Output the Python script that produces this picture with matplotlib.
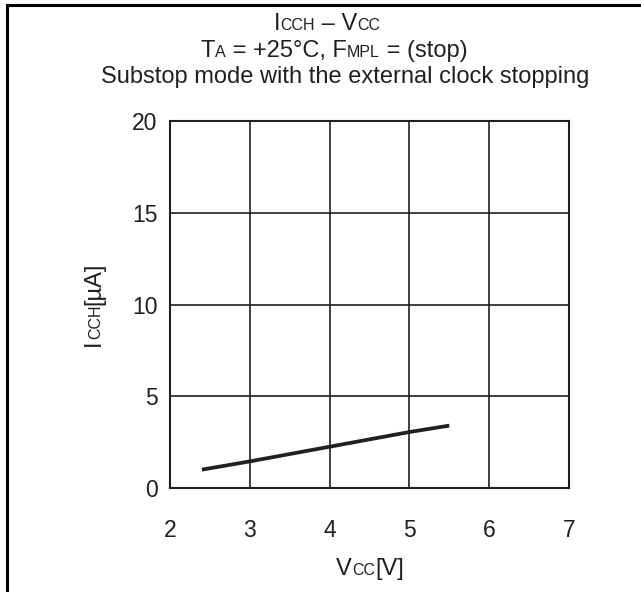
import matplotlib
matplotlib.use("Agg")
import matplotlib.pyplot as plt
from matplotlib.lines import Line2D

plt.rcParams['font.family'] = ['Liberation Sans', 'DejaVu Sans']

# ---- data ----
vcc = [2.4, 3.0, 4.0, 5.0, 5.5]
icch = [1.0, 1.45, 2.25, 3.05, 3.4]
x_ticks = [2, 3, 4, 5, 6, 7]
y_ticks = [0, 5, 10, 15, 20]

W, H = 641, 592
fig = plt.figure(figsize=(W / 100, H / 100), dpi=100)

L, R, T, B = 170, 569, 121, 488
ax = fig.add_axes([L / W, 1 - B / H, (R - L) / W, (B - T) / H])
ax.plot(vcc, icch, color='#231f20', lw=2.7, solid_capstyle='butt')
ax.set_xlim(2, 7)
ax.set_ylim(0, 20)
ax.set_xticks(x_ticks)
ax.set_yticks(y_ticks)
ax.grid(True, color='#231f20', lw=1.2)
ax.tick_params(length=0, labelsize=16.5, labelcolor='#231f20')
ax.tick_params(axis='y', pad=9)
ax.tick_params(axis='x', pad=22)
for s in ax.spines.values():
    s.set_linewidth(1.5)
    s.set_color('#231f20')

# outer frame (top and left edges visible)
fig.add_artist(Line2D([7 / W, 1.0], [1 - 5 / H, 1 - 5 / H], transform=fig.transFigure,
                      color='black', lw=2.2))
fig.add_artist(Line2D([7 / W, 7 / W], [0, 1 - 5 / H], transform=fig.transFigure,
                      color='black', lw=2.2))

BIG, SMALL = 17, 11.5


def rich(pieces, x, y, rotation=0):
    """pieces: (text, size). x,y in pixels (from top-left); centred on x (or y if rotated)."""
    fig.canvas.draw()
    r = fig.canvas.get_renderer()
    texts, widths = [], []
    for s, size in pieces:
        t = fig.text(0, 0, s, fontsize=size, rotation=rotation, rotation_mode='anchor',
                     ha='left', va='baseline', color='#231f20')
        bb = t.get_window_extent(r)
        widths.append(bb.width if rotation == 0 else bb.height)
        texts.append(t)
    total = sum(widths)
    if rotation == 0:
        cur = x - total / 2
        for t, w in zip(texts, widths):
            t.set_position((cur / W, 1 - y / H))
            cur += w
    else:
        cur = (H - y) - total / 2
        for t, w in zip(texts, widths):
            t.set_position((x / W, cur / H))
            cur += w


rich([("I", BIG), ("CCH", SMALL), (" \u2013 V", BIG), ("CC", SMALL)], 327, 30)
rich([("T", BIG), ("A", SMALL), (" = +25\u00b0C, F", BIG), ("MPL", SMALL),
      (" = (stop)", BIG)], 334, 57)
rich([("Substop mode with the external clock stopping", BIG)], 345, 83)
rich([("V", BIG), ("CC", SMALL), ("[V]", BIG)], 370, 575)
rich([("I", BIG), ("CCH", SMALL), ("[\u00b5A]", BIG)], 100, 304, rotation=90)

fig.savefig("out.png", dpi=100)
